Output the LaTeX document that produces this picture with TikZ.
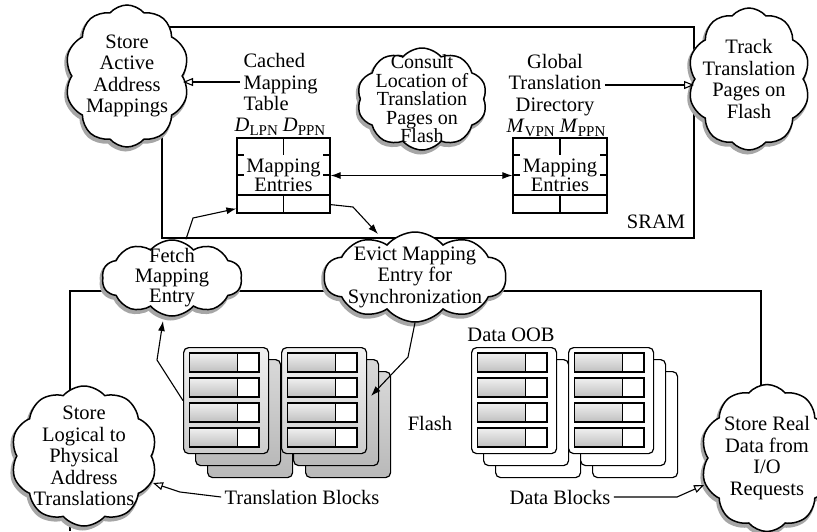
\documentclass[tikz,border=0pt]{standalone}
\usepackage{fontspec}
\setmainfont{Liberation Serif}
\usetikzlibrary{shapes.symbols,arrows.meta}
\newcommand\subtx[1]{\raisebox{-3.5pt}{\fontsize{15}{15}\selectfont #1}}
\newcommand\FGroup[5]{%
  \node[#5, anchor=north west] (#1c) at (#2+24,#3+24) {};
  \node[#5, anchor=north west] (#1b) at (#2+12,#3+12) {};
  \node[#4, anchor=north west] (#1) at (#2,#3) {};
  \foreach \i in {0,...,3}{
    \draw[rowbar] (#2+6.5,#3+6+25*\i) rectangle (#2+54.5,#3+25+25*\i);
    \draw[rowcell] (#2+54.5,#3+6+25*\i) rectangle (#2+76,#3+25+25*\i);
  }
}
\begin{document}
\begin{tikzpicture}[x=1pt,y=-1pt,
  every node/.style={font=\fontsize{20.5}{21.5}\selectfont},
  boxline/.style={line width=1.2pt},
  cl/.style={cloud, draw, line width=1.5pt, fill=white, cloud puffs=10, cloud puff arc=100,
    cloud ignores aspect, align=center, inner sep=-14pt,
    preaction={draw=black!35, fill=black!35, line width=3pt, transform canvas={shift={(-1.5pt,-3pt)}}}},
  oarr/.style={-{Triangle[open,length=10pt,width=8pt]}, line width=1.1pt},
  farr/.style={-{Latex[length=10pt,width=7pt]}, line width=1.1pt},
  blk/.style={draw, rounded corners=5pt, minimum width=85, minimum height=106, inner sep=0pt, line width=1.2pt},
  tfront/.style={blk, top color=gray!10, bottom color=gray!40},
  tlayer/.style={blk, top color=gray!30, bottom color=gray!55},
  dfront/.style={blk, fill=white},
  dlayer/.style={blk, fill=white},
  rowbar/.style={draw, line width=1.1pt, top color=gray!12, bottom color=gray!50},
  rowcell/.style={draw, line width=1.1pt, fill=white},
  tabtxt/.style={align=center, inner sep=0pt, font=\fontsize{20.5}{19}\selectfont},
]
\clip (0,0) rectangle (817,531);
\fill[white] (0,0) rectangle (817,531);

% memory regions
\draw[boxline] (162,27) rectangle (694,238);
\draw[boxline] (70,531) -- (70,291) -- (761,291) -- (761,531);
\node (sram) at (656,222) {SRAM};
\node (flash) at (430,423) {Flash};
\node (oob) at (511,335) {Data OOB};

% flash blocks
\FGroup{tb1}{183}{347}{tfront}{tlayer}
\FGroup{tb2}{281}{347}{tfront}{tlayer}
\FGroup{db1}{471}{347}{dfront}{dlayer}
\FGroup{db2}{568}{347}{dfront}{dlayer}
\node (tblbl) at (302,497) {Translation Blocks};
\node (dblbl) at (560,497) {Data Blocks};

% cached mapping table
\node[draw, boxline, minimum width=93, minimum height=75, inner sep=0pt] (t1) at (283.5,175.5) {};
\draw[boxline] (283.5,138) -- (283.5,155) (283.5,195) -- (283.5,213)
  (237,195) -- (330,195)
  (237,155) -- (244,155) (323,155) -- (330,155)
  (237,175) -- (244,175) (323,175) -- (330,175);
\node[tabtxt] (t1txt) at (283.5,175) {Mapping\\Entries};
\node[anchor=west, align=left] (cachedlbl) at (240,82) {Cached\\Mapping\\Table};
\node (dhead) at (280,127) {\textit{D}\subtx{LPN} \textit{D}\subtx{PPN}};

% global translation directory
\node[draw, boxline, minimum width=94, minimum height=75, inner sep=0pt] (t2) at (560,175.5) {};
\draw[boxline] (560,138) -- (560,155) (560,195) -- (560,213)
  (513,195) -- (607,195)
  (513,155) -- (520,155) (600,155) -- (607,155)
  (513,175) -- (520,175) (600,175) -- (607,175);
\node[tabtxt] (t2txt) at (560,175) {Mapping\\Entries};
\node[align=center] (gtdlbl) at (555,85) {Global\\Translation\\Directory};
\node (mhead) at (556,128) {\textit{M}\subtx{VPN} \textit{M}\subtx{PPN}};

% clouds
\node[cl, minimum width=124, minimum height=142] (sa) at (127,76) {Store\\Active\\Address\\Mappings};
\node[cl, minimum width=122, minimum height=142] (tr) at (749,79) {Track\\Translation\\Pages on\\Flash};
\node[cl, minimum width=130, minimum height=102, font=\fontsize{20}{18.5}\selectfont] (co) at (422,99) {Consult\\Location of\\Translation\\Pages on\\Flash};
\node[cl, minimum width=140, minimum height=76, font=\fontsize{20.5}{20}\selectfont] (fe) at (172,278) {Fetch\\Mapping\\Entry};
\node[cl, minimum width=182, minimum height=90] (ev) at (415,277) {Evict Mapping\\Entry for\\Synchronization};
\node[cl, minimum width=146, minimum height=140] (sl) at (84,456) {Store\\Logical to\\Physical\\Address\\Translations};
\node[cl, minimum width=132, minimum height=147] (sr) at (767,458) {Store Real\\Data from\\I/O\\Requests};

% connectors
\coordinate (evtop) at (378,234);
\coordinate (fetchbot) at (163,321);
\coordinate (evictend) at (371,396);
\coordinate (slend) at (153,483);
\coordinate (srend) at (704,485);

\draw[oarr] (cachedlbl.west) -- (sa.east |- cachedlbl.west);
\draw[oarr] (gtdlbl.east) -- (tr.west |- gtdlbl.east);
\draw[{Latex[length=10pt,width=7pt]}-{Latex[length=10pt,width=7pt]}, line width=1.1pt] (t1.east) -- (t2.west);
\draw[farr] ([xshift=14pt]fe.north) -- (193,218) -- ([yshift=5pt]t1.south west);
\draw[farr] ([yshift=9pt]t1.south east) -- (353,207) -- (evtop);
\draw[farr] (tb1.west) -- (157,360) -- (fetchbot);
\draw[farr] (ev.south) -- (408,357) -- (evictend);
\draw[oarr] (tblbl.west) -- (180,492) -- (slend);
\draw[oarr] (dblbl.east) -- (677,497) -- (srend);
\end{tikzpicture}
\end{document}
